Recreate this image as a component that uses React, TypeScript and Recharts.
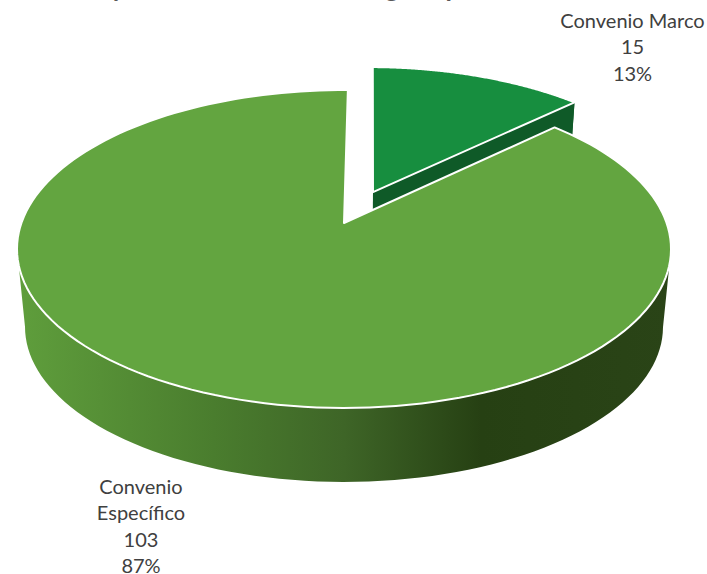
import { PieChart, Pie } from 'recharts'

const categories = ['Convenio Marco', 'Convenio Específico']
const values = [15, 103]
const sliceColors = ['#178e3f', '#63a540']
const wallColors = ['#0f5a28', 'url(#wallShade)']
const labelLines = [['Convenio Marco'], ['Convenio', 'Específico']]
const titleTails = ['y', 'g', 'p']

const data = categories.map((name, i) => ({ name, value: values[i], fill: sliceColors[i], wall: wallColors[i], lines: labelLines[i] }))

const WIDTH = 707
const HEIGHT = 574
const textColor = '#404040'
const fontFamily = 'Lato, sans-serif'

// perspective of the tilted disc, u/v are unit circle coordinates
const TILT = 154.7
const PERSPECTIVE = 0.1635
// the bottom face is the top face pulled towards this point
const NADIR_Y = 3428
const BOTTOM_SCALE = 0.9755
const EXPLODE_U = 0.0929
const EXPLODE_V = 0.2068

const RAD = Math.PI / 180

function toPath(points: number[][]) {
  return 'M' + points.map((p) => p[0].toFixed(2) + ',' + p[1].toFixed(2)).join('L') + 'Z'
}

function Slice3D(props: any) {
  const { cx, cy, outerRadius, startAngle, endAngle, payload, fill } = props
  const exploded = payload.name === categories[0]
  const du = exploded ? EXPLODE_U : 0
  const dv = exploded ? EXPLODE_V : 0

  const project = (u: number, v: number) => {
    const w = 1 + PERSPECTIVE * (v + dv)
    return [cx + (outerRadius * (u + du)) / w, cy - (TILT * (v + dv)) / w]
  }
  const drop = (p: number[]) => [cx + BOTTOM_SCALE * (p[0] - cx), NADIR_Y + BOTTOM_SCALE * (p[1] - NADIR_Y)]

  const steps = 160
  const arc: number[][] = []
  for (let i = 0; i <= steps; i++) {
    const a = (startAngle + ((endAngle - startAngle) * i) / steps) * RAD
    arc.push(project(Math.cos(a), Math.sin(a)))
  }
  const apex = project(0, 0)

  // only the part of the rim that faces the viewer gets a wall
  const xs = arc.map((p) => p[0])
  const rimFrom = exploded ? Math.floor(steps / 2) : xs.indexOf(Math.max(...xs))
  const rimTo = exploded ? steps : xs.indexOf(Math.min(...xs))
  const rim = arc.slice(rimFrom, rimTo + 1)
  const rimBottom = rim.map(drop).reverse()
  const tip = arc[arc.length - 1]

  return (
    <g>
      <defs>
        <linearGradient id="wallShade" gradientUnits="userSpaceOnUse" x1="17" y1="0" x2="671" y2="0">
          <stop offset="0" stopColor="#5f9e3c" />
          <stop offset="0.3" stopColor="#4a7d2e" />
          <stop offset="0.5" stopColor="#3e6527" />
          <stop offset="0.71" stopColor="#264013" />
          <stop offset="1" stopColor="#2a4417" />
        </linearGradient>
      </defs>
      <path d={toPath([...rim, ...rimBottom])} fill={payload.wall} stroke="none" />
      {exploded && <path d={toPath([apex, tip, drop(tip), drop(apex)])} fill={payload.wall} stroke="none" />}
      <path d={toPath([apex, ...arc])} fill={fill} stroke="#ffffff" strokeWidth={2} strokeLinejoin="round" />
    </g>
  )
}

function SliceLabel(props: any) {
  const { index, value, percent, payload } = props
  const x = index === 0 ? 632.5 : 141
  const top = index === 0 ? 28 : 494
  const rows = [...payload.lines, String(value), Math.round(percent * 100) + '%']
  return (
    <text x={x} y={top} textAnchor="middle" fill={textColor} fontFamily={fontFamily} fontSize={20}>
      {rows.map((row: string, i: number) => (
        <tspan key={i} x={x} y={top + i * 26.4}>
          {row}
        </tspan>
      ))}
    </text>
  )
}

export default function App() {
  return (
    <div style={{ position: 'absolute', left: 0, top: 0, width: WIDTH, height: HEIGHT, overflow: 'hidden', background: '#ffffff' }}>
      <PieChart width={WIDTH} height={HEIGHT} margin={{ top: 0, right: 0, bottom: 0, left: 0 }}>
        {titleTails.map((t, i) => (
          <text key={t} x={[118, 392, 453][i]} y={-3} textAnchor="middle" fill="#595959" fontFamily={fontFamily} fontWeight={700} fontSize={26}>
            {t}
          </text>
        ))}
        <Pie
          data={data}
          dataKey="value"
          nameKey="name"
          cx={344}
          cy={223}
          innerRadius={0}
          outerRadius={322.6}
          startAngle={89.2}
          endAngle={-270.8}
          stroke="#ffffff"
          shape={Slice3D}
          label={SliceLabel}
          labelLine={false}
          isAnimationActive={false}
        />
      </PieChart>
    </div>
  )
}
